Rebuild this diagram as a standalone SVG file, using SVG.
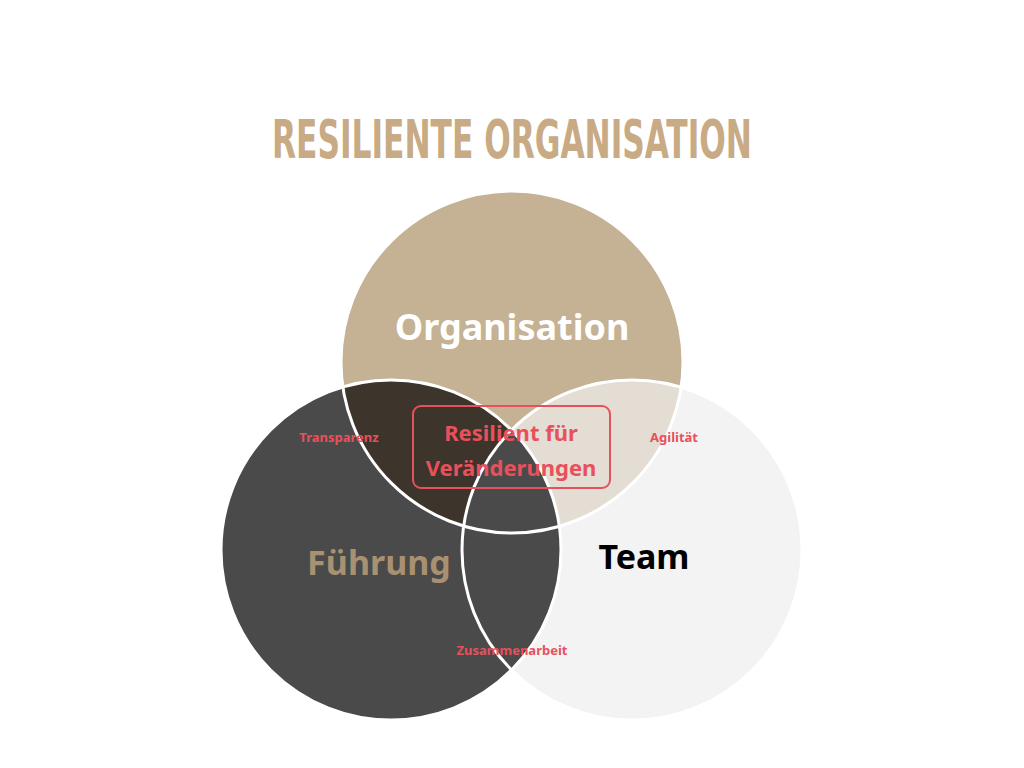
<svg xmlns="http://www.w3.org/2000/svg" width="1024" height="768" viewBox="0 0 1024 768">
<style>
.lbl{font-family:"Noto Sans","Liberation Sans",sans-serif;font-weight:bold;text-anchor:middle}
.red{fill:#E8505B}
.ring{fill:none;stroke:#fff;stroke-width:3}
</style>
<defs>
<clipPath id="cT"><circle cx="512" cy="362" r="171"/></clipPath>
<clipPath id="cL"><circle cx="391" cy="550" r="170"/></clipPath>
<clipPath id="cR"><circle cx="632" cy="550" r="170"/></clipPath>
<clipPath id="cTL" clip-path="url(#cL)"><circle cx="512" cy="362" r="171"/></clipPath>
</defs>
<rect width="1024" height="768" fill="#fff"/>
<text x="512" y="158" font-family="DejaVu Sans Condensed,Liberation Sans Narrow,sans-serif" font-weight="bold" font-size="54" fill="#C8AA84" text-anchor="middle" textLength="480" lengthAdjust="spacingAndGlyphs">RESILIENTE ORGANISATION</text>
<g id="node-team"><circle cx="632" cy="550" r="170" fill="#F3F3F3"/></g>
<g id="node-organisation"><circle cx="512" cy="362" r="171" fill="#C5B194"/></g>
<g id="node-fuehrung"><circle cx="391" cy="550" r="170" fill="#4A4A4A"/></g>
<g id="overlaps">
<circle cx="632" cy="550" r="170" fill="#E3DDD3" clip-path="url(#cT)"/>
<circle cx="391" cy="550" r="170" fill="#3D342B" clip-path="url(#cT)"/>
<circle cx="632" cy="550" r="170" fill="#4A4A4A" clip-path="url(#cTL)"/>
</g>
<g id="connectors">
<circle class="ring" cx="632" cy="550" r="170"/>
<circle class="ring" cx="512" cy="362" r="171"/>
<circle class="ring" cx="391" cy="550" r="170"/>
</g>
<text class="lbl" x="512" y="340" font-size="36" fill="#fff">Organisation</text>
<text class="lbl" x="379" y="575" font-size="34" fill="#A89171">Führung</text>
<text class="lbl" x="644" y="569" font-size="34" fill="#000">Team</text>
<g id="node-center">
<rect x="413" y="406" width="197" height="82" rx="8" fill="none" stroke="#E8505B" stroke-width="2"/>
<text class="lbl red" x="511" y="441" font-size="22">Resilient für</text>
<text class="lbl red" x="511" y="476" font-size="22">Veränderungen</text>
</g>
<text class="lbl red" x="339" y="442" font-size="13">Transparenz</text>
<text class="lbl red" x="674" y="442" font-size="13">Agilität</text>
<text class="lbl red" x="512" y="655" font-size="13">Zusammenarbeit</text>
</svg>
